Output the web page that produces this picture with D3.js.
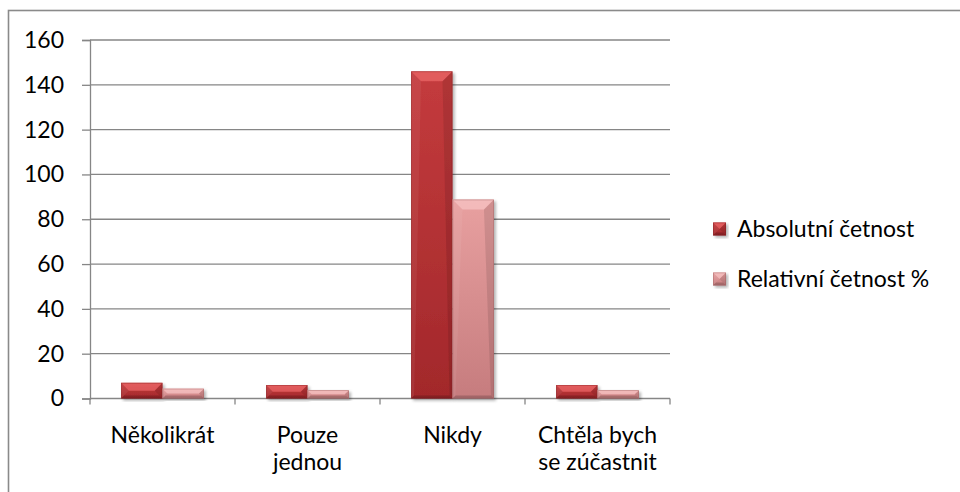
<!DOCTYPE html>
<html>
<head>
<meta charset="utf-8">
<script src="https://cdn.jsdelivr.net/npm/d3@7"></script>
<style>
  html, body { margin: 0; padding: 0; background: #fff; }
  svg { display: block; font-family: Lato, "Open Sans", sans-serif; }
</style>
</head>
<body>
<svg id="chart" width="960" height="492"></svg>
<script>
// Odpovědi a četnosti
const categories = [["Několikrát"], ["Pouze", "jednou"], ["Nikdy"], ["Chtěla bych", "se zúčastnit"]];
const seriesNames = ["Absolutní četnost", "Relativní četnost %"];
const absolutni = [7, 6, 146, 6];
const relativni = [4.4, 3.7, 88.8, 3.7];
const yTicks = [0, 20, 40, 60, 80, 100, 120, 140, 160];

const seriesValues = [absolutni, relativni];
const catKeys = categories.map(c => c.join(" "));

const svg = d3.select("#chart");
const W = 960, H = 492;
const plot = { left: 90, right: 670, top: 40, bottom: 398.5 };
const fontSize = 23;

const x = d3.scaleBand().domain(catKeys).range([plot.left, plot.right]).padding(0);
const xs = d3.scaleBand().domain(seriesNames).range([0, x.bandwidth()])
  .paddingInner(0).paddingOuter(0.75);
const y = d3.scaleLinear().domain([0, 160]).range([plot.bottom, plot.top]);

const defs = svg.append("defs");

// Bar body gradients (top lighter, bottom darker)
const palettes = [
  { top: "#c43b3d", bottom: "#a2282b", hi: "#ee6a6a", edge: "#7d1d1f" },
  { top: "#e8a0a0", bottom: "#c67c7e", hi: "#f8c6c6", edge: "#9a5a5c" }
];
palettes.forEach((p, i) => {
  const g = defs.append("linearGradient").attr("id", "body" + i)
    .attr("x1", 0).attr("y1", 0).attr("x2", 0).attr("y2", 1);
  g.append("stop").attr("offset", "0%").attr("stop-color", p.top);
  g.append("stop").attr("offset", "100%").attr("stop-color", p.bottom);
});

const shadow = defs.append("filter").attr("id", "shadow")
  .attr("x", "-20%").attr("y", "-20%").attr("width", "140%").attr("height", "140%");
shadow.append("feGaussianBlur").attr("in", "SourceAlpha").attr("stdDeviation", 1.6);
shadow.append("feOffset").attr("dx", 1.5).attr("dy", 1.5).attr("result", "b");
shadow.append("feComponentTransfer").append("feFuncA").attr("type", "linear").attr("slope", 0.3);
const merge = shadow.append("feMerge");
merge.append("feMergeNode");
merge.append("feMergeNode").attr("in", "SourceGraphic");

// Outer frame
svg.append("rect")
  .attr("x", 8.5).attr("y", 10.5).attr("width", W + 20).attr("height", H + 20)
  .attr("fill", "none").attr("stroke", "#8a8a8a").attr("stroke-width", 1.6);

// Gridlines + y axis
const yAxis = d3.axisLeft(y).tickValues(yTicks).tickSize(8).tickPadding(18)
  .tickFormat(d3.format("d"));
const gy = svg.append("g").attr("transform", `translate(${plot.left},0)`).call(yAxis);
gy.select(".domain").attr("stroke", "#868686").attr("stroke-width", 1.3);
gy.selectAll(".tick line").attr("stroke", "#868686").attr("stroke-width", 1.3);
gy.selectAll(".tick text").attr("font-size", fontSize).attr("fill", "#000")
  .attr("font-family", "Lato, sans-serif");

svg.append("g").selectAll("line").data(yTicks.filter(d => d > 0)).join("line")
  .attr("x1", plot.left).attr("x2", plot.right)
  .attr("y1", d => y(d)).attr("y2", d => y(d))
  .attr("stroke", "#868686").attr("stroke-width", 1.3);

// x axis with ticks at category boundaries
const gx = svg.append("g").attr("transform", `translate(0,${plot.bottom})`);
gx.append("line").attr("x1", plot.left).attr("x2", plot.right)
  .attr("stroke", "#868686").attr("stroke-width", 1.3);
const bounds = catKeys.map(k => x(k)).concat([plot.right]);
gx.selectAll("line.tk").data(bounds).join("line").attr("class", "tk")
  .attr("x1", d => d).attr("x2", d => d).attr("y1", 0).attr("y2", 6)
  .attr("stroke", "#868686").attr("stroke-width", 1.3);

const labels = gx.selectAll("text.cat").data(categories).join("text").attr("class", "cat")
  .attr("x", (d, i) => x(catKeys[i]) + x.bandwidth() / 2)
  .attr("y", 44)
  .attr("text-anchor", "middle").attr("font-size", fontSize).attr("fill", "#000");
labels.selectAll("tspan").data(d => d).join("tspan")
  .attr("x", function () { return this.parentNode.getAttribute("x"); })
  .attr("dy", (d, i) => i === 0 ? 0 : 27)
  .text(d => d);

// Bevelled bar drawing
function bevelBar(g, x0, y0, w, h, pi) {
  const p = palettes[pi];
  const x1 = x0 + w, y1 = y0 + h;
  const d = Math.min(10, h / 2, w / 2), e = Math.min(3, h / 2);
  const bar = g.append("g").attr("filter", "url(#shadow)");
  bar.append("rect").attr("x", x0).attr("y", y0).attr("width", w).attr("height", h)
    .attr("fill", `url(#body${pi})`);
  // top facet
  bar.append("polygon")
    .attr("points", [[x0, y0], [x1, y0], [x1 - d, y0 + d], [x0 + d, y0 + d]].join(" "))
    .attr("fill", p.hi).attr("opacity", 0.7);
  // left facet
  bar.append("polygon")
    .attr("points", [[x0, y0], [x0 + d, y0 + d], [x0 + e, y1 - e], [x0, y1]].join(" "))
    .attr("fill", "#fff").attr("opacity", 0.06);
  // right facet
  bar.append("polygon")
    .attr("points", [[x1, y0], [x1, y1], [x1 - e, y1 - e], [x1 - d, y0 + d]].join(" "))
    .attr("fill", "#000").attr("opacity", 0.1);
  // bottom facet
  bar.append("polygon")
    .attr("points", [[x0, y1], [x0 + e, y1 - e], [x1 - e, y1 - e], [x1, y1]].join(" "))
    .attr("fill", "#000").attr("opacity", 0.18);
  bar.append("rect").attr("x", x0 + 0.4).attr("y", y0 + 0.4).attr("width", w - 0.8).attr("height", h - 0.8)
    .attr("fill", "none").attr("stroke", p.edge).attr("stroke-opacity", 0.45).attr("stroke-width", 0.8);
}

const gBars = svg.append("g");
catKeys.forEach((k, ci) => {
  seriesNames.forEach((s, si) => {
    const v = seriesValues[si][ci];
    const x0 = x(k) + xs(s);
    bevelBar(gBars, x0, y(v), xs.bandwidth(), y(0) - y(v), si);
  });
});

// Legend
const legend = svg.append("g");
const legendY = [229, 279];
seriesNames.forEach((s, i) => {
  bevelBar(legend, 713, legendY[i] - 6.5, 13, 13, i);
  legend.append("text").attr("x", 737).attr("y", legendY[i])
    .attr("dy", "0.35em").attr("font-size", fontSize).attr("fill", "#000").text(s);
});
</script>
</body>
</html>
